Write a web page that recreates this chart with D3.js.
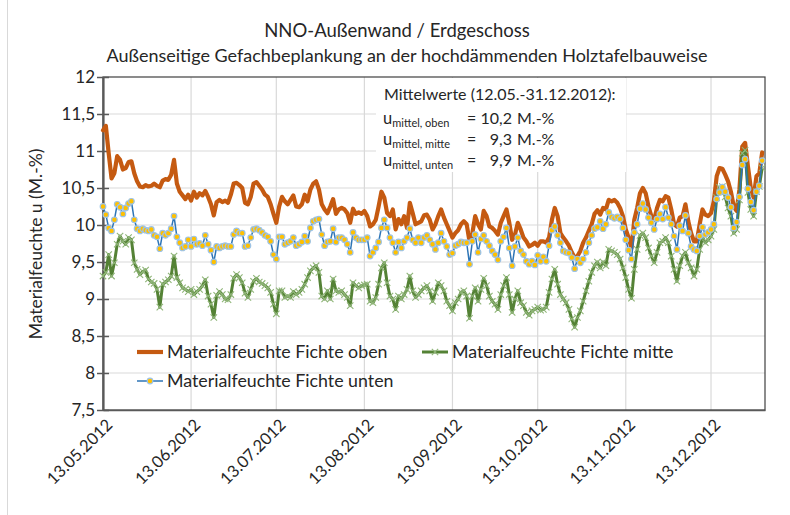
<!DOCTYPE html>
<html>
<head>
<meta charset="utf-8">
<script src="https://cdn.jsdelivr.net/npm/d3@7"></script>
<style>
  html, body { margin: 0; padding: 0; background: #ffffff; }
  svg { display: block; font-family: Lato, "Open Sans", sans-serif; }
</style>
</head>
<body>
<svg id="chart" width="790" height="515"></svg>
<script>
// Daily readings from 13.05.2012 to 31.12.2012
const startDate = new Date(2012, 4, 13);
const endDate = new Date(2013, 0, 1);

const seriesNames = [
  "Materialfeuchte Fichte oben",
  "Materialfeuchte Fichte mitte",
  "Materialfeuchte Fichte unten"
];

const oben = [
  11.28, 11.34, 10.97, 10.63, 10.70, 10.93, 10.88, 10.75, 10.77, 10.85,
  10.86, 10.70, 10.59, 10.52, 10.51, 10.54, 10.52, 10.53, 10.56, 10.53,
  10.51, 10.60, 10.62, 10.61, 10.68, 10.88, 10.56, 10.45, 10.40, 10.35,
  10.41, 10.33, 10.45, 10.37, 10.43, 10.40, 10.46, 10.38, 10.28, 10.13,
  10.31, 10.34, 10.31, 10.33, 10.30, 10.41, 10.56, 10.57, 10.54, 10.50,
  10.30, 10.28, 10.38, 10.56, 10.58, 10.53, 10.48, 10.41, 10.38,
  10.28, 10.15, 10.03, 10.25, 10.38, 10.32, 10.28, 10.34, 10.40, 10.25,
  10.24, 10.28, 10.41, 10.32, 10.48, 10.56, 10.59, 10.48, 10.28, 10.21,
  10.16, 10.25, 10.35, 10.15, 10.21, 10.23, 10.21, 10.16, 10.03, 10.22,
  10.15, 10.17, 10.15, 10.19, 10.12, 9.98, 10.01, 10.07, 10.25, 10.45,
  10.37, 10.16, 10.12, 10.21, 9.94, 10.08, 10.01, 10.12, 9.96, 10.30,
  10.16, 10.01, 10.03, 10.05, 10.13, 10.14,
  10.07, 9.94, 10.01, 10.12, 10.21, 10.10, 10.01, 9.92, 9.83, 9.89,
  9.93, 10.01, 10.05, 10.01, 9.78, 9.89, 10.12, 10.01, 9.94, 10.19,
  10.12, 9.98, 9.96, 9.92, 9.87, 10.03, 10.12, 10.21, 10.03, 9.80,
  9.87, 10.03, 9.94, 9.83, 9.78, 9.71, 9.73, 9.76, 9.72, 9.78,
  9.78, 9.76, 9.83, 10.07, 10.23, 10.12, 9.89, 9.83, 9.78, 9.72,
  9.63, 9.56, 9.58, 9.65, 9.76, 9.83, 9.92, 10.01,
  10.15, 10.20, 10.14, 10.23, 10.21, 10.34, 10.32, 10.34, 10.30, 10.23,
  10.12, 9.94, 9.83, 9.69, 10.07, 10.23, 10.43, 10.50, 10.43, 10.25,
  10.12, 10.07, 10.23, 10.34, 10.32, 10.39, 10.37, 10.21, 10.01, 9.98,
  10.10, 10.12, 10.28, 10.05, 9.89, 9.78, 9.78, 10.01, 10.21, 10.14,
  10.12, 10.16, 10.32, 10.66, 10.77, 10.76, 10.68, 10.59, 10.45, 10.25,
  10.19, 10.48, 11.06, 11.11, 10.79, 10.50, 10.37, 10.66, 10.70, 10.98
];

const mitte = [
  9.31, 9.36, 9.60, 9.31, 9.49, 9.74, 9.85, 9.78, 9.74, 9.83,
  9.80, 9.49, 9.40, 9.33, 9.37, 9.39, 9.27, 9.23, 9.21, 9.13,
  8.89, 9.20, 9.23, 9.26, 9.31, 9.58, 9.29, 9.22, 9.15, 9.13,
  9.10, 9.13, 9.06, 9.10, 9.13, 9.18, 9.26, 9.04, 8.93, 8.75,
  9.05, 9.10, 9.06, 9.00, 8.99, 9.06, 9.28, 9.33, 9.29, 9.22,
  9.08, 9.02, 9.13, 9.24, 9.28, 9.23, 9.21, 9.18, 9.15,
  9.09, 8.93, 8.80, 9.11, 9.11, 9.02, 9.04, 9.02, 9.10, 9.06,
  9.09, 9.13, 9.20, 9.29, 9.38, 9.42, 9.45, 9.36, 9.04, 9.00,
  9.11, 9.00, 9.27, 9.11, 9.09, 9.11, 9.06, 9.02, 8.91, 9.22,
  9.18, 9.15, 9.18, 9.19, 9.20, 8.97, 8.95, 9.02, 9.20, 9.42,
  9.49, 9.22, 9.04, 9.00, 8.86, 9.04, 9.00, 9.06, 9.13, 9.31,
  9.11, 9.02, 9.06, 9.11, 9.15, 9.18,
  9.11, 8.97, 9.09, 9.22, 9.18, 9.11, 8.97, 8.91, 8.84, 8.95,
  9.00, 9.09, 9.11, 9.04, 8.74, 9.04, 9.15, 8.97, 9.13, 9.28,
  9.18, 9.04, 8.97, 8.93, 8.86, 9.06, 9.18, 9.29, 9.06, 8.82,
  9.00, 9.11, 8.95, 8.91, 8.82, 8.78, 8.84, 8.86, 8.89, 8.85,
  8.86, 8.89, 9.09, 9.27, 9.40, 9.20, 9.06, 9.00, 8.95, 8.86,
  8.73, 8.62, 8.75, 8.84, 8.97, 9.11, 9.24, 9.36,
  9.45, 9.50, 9.42, 9.50, 9.45, 9.67, 9.65, 9.63, 9.60, 9.54,
  9.42, 9.29, 9.13, 9.01, 9.40, 9.67, 9.86, 9.89, 9.83, 9.69,
  9.58, 9.49, 9.63, 9.76, 9.78, 9.83, 9.76, 9.58, 9.40, 9.24,
  9.45, 9.58, 9.63, 9.49, 9.42, 9.31, 9.40, 9.67, 9.83, 9.76,
  9.80, 9.85, 9.94, 10.37, 10.51, 10.52, 10.38, 10.23, 10.12, 9.89,
  9.94, 10.34, 10.97, 11.01, 10.44, 10.21, 10.12, 10.45, 10.52, 10.77
];

const unten = [
  10.25, 10.14, 9.96, 9.92, 10.07, 10.28, 10.24, 10.15, 10.23, 10.29,
  10.32, 10.07, 9.95, 9.92, 9.95, 9.93, 9.92, 9.94, 9.86, 9.84,
  9.68, 9.89, 9.86, 9.89, 9.95, 10.12, 9.84, 9.76, 9.69, 9.71,
  9.80, 9.71, 9.81, 9.74, 9.75, 9.72, 9.86, 9.74, 9.66, 9.50,
  9.71, 9.69, 9.71, 9.72, 9.71, 9.71, 9.87, 9.92, 9.89, 9.89,
  9.71, 9.72, 9.83, 9.94, 9.95, 9.93, 9.90, 9.86, 9.84,
  9.78, 9.60, 9.54, 9.84, 9.84, 9.74, 9.76, 9.78, 9.83, 9.72,
  9.74, 9.77, 9.85, 9.78, 9.96, 10.05, 10.07, 10.08, 9.87, 9.72,
  9.77, 9.78, 9.95, 9.77, 9.83, 9.83, 9.80, 9.74, 9.63, 9.90,
  9.83, 9.80, 9.80, 9.80, 9.83, 9.58, 9.63, 9.69, 9.77, 9.96,
  10.07, 9.96, 9.83, 9.76, 9.63, 9.77, 9.69, 9.78, 9.83, 9.95,
  9.80, 9.76, 9.83, 9.76, 9.83, 9.86,
  9.80, 9.74, 9.67, 9.76, 9.89, 9.78, 9.71, 9.60, 9.62, 9.72,
  9.74, 9.77, 9.76, 9.76, 9.47, 9.78, 9.87, 9.63, 9.81, 9.86,
  9.78, 9.72, 9.65, 9.60, 9.53, 9.78, 9.84, 9.96, 9.69, 9.45,
  9.71, 9.83, 9.65, 9.60, 9.51, 9.47, 9.51, 9.46, 9.59, 9.51,
  9.57, 9.51, 9.72, 9.93, 9.98, 9.86, 9.76, 9.65, 9.63, 9.62,
  9.56, 9.41, 9.54, 9.49, 9.54, 9.63, 9.76, 9.86,
  9.95, 9.97, 10.05, 9.95, 10.01, 10.17, 10.11, 10.09, 10.11, 10.08,
  9.96, 9.80, 9.66, 9.54, 9.90, 10.01, 10.22, 10.29, 10.21, 10.10,
  10.03, 9.94, 10.08, 10.15, 10.08, 10.24, 10.10, 10.01, 9.85, 9.67,
  9.99, 9.92, 10.13, 9.89, 9.71, 9.67, 9.65, 9.85, 9.97, 9.87,
  9.90, 9.94, 10.01, 10.35, 10.44, 10.51, 10.45, 10.37, 10.24, 9.96,
  10.04, 10.38, 10.81, 10.89, 10.49, 10.31, 10.20, 10.45, 10.53, 10.87
];

const yTicks = [7.5, 8, 8.5, 9, 9.5, 10, 10.5, 11, 11.5, 12];
const xTickDates = [
  new Date(2012, 4, 13), new Date(2012, 5, 13), new Date(2012, 6, 13),
  new Date(2012, 7, 13), new Date(2012, 8, 13), new Date(2012, 9, 13),
  new Date(2012, 10, 13), new Date(2012, 11, 13)
];

const meanLabels = ["mittel, oben", "mittel, mitte", "mittel, unten"];
const meanValues = ["10,2", "9,3", "9,9"];

const colors = { oben: "#C55A11", mitte: "#548235", unten: "#2E75B6" };

const plot = { left: 103, right: 765, top: 77, bottom: 410 };

const svg = d3.select("#chart");

const x = d3.scaleTime().domain([startDate, endDate]).range([plot.left, plot.right]);
const y = d3.scaleLinear().domain([7.5, 12]).range([plot.bottom, plot.top]);

const days = oben.map((_, i) => d3.timeDay.offset(startDate, i));
// German number format: "11,5" and "12" (no trailing ",0")
const deNum = v => String(v).replace(".", ",");
const fmtDate = d3.timeFormat("%d.%m.%Y");

// Gridlines
const grid = svg.append("g");
grid.selectAll("line.h")
  .data(yTicks.filter(v => v > 7.5 && v < 12))
  .join("line")
  .attr("x1", plot.left).attr("x2", plot.right)
  .attr("y1", d => y(d)).attr("y2", d => y(d))
  .attr("stroke", "#D9D9D9").attr("stroke-width", 1.2);
grid.selectAll("line.v")
  .data(xTickDates.slice(1))
  .join("line")
  .attr("x1", d => x(d)).attr("x2", d => x(d))
  .attr("y1", plot.top).attr("y2", plot.bottom)
  .attr("stroke", "#D9D9D9").attr("stroke-width", 1.2);

// Outer frame line of the chart area
svg.append("line").attr("x1", 7.5).attr("x2", 7.5).attr("y1", 0).attr("y2", 515)
  .attr("stroke", "#D9D9D9").attr("stroke-width", 1);

// Plot border
svg.append("rect")
  .attr("x", plot.left).attr("y", plot.top)
  .attr("width", plot.right - plot.left).attr("height", plot.bottom - plot.top)
  .attr("fill", "none").attr("stroke", "#404040").attr("stroke-width", 1.2);

// Y axis with crossing ticks
const yAxis = d3.axisLeft(y).tickValues(yTicks).tickFormat(deNum).tickSize(0).tickPadding(8);
const gy = svg.append("g").attr("transform", `translate(${plot.left},0)`).call(yAxis);
gy.select(".domain").attr("stroke", "#595959").attr("stroke-width", 2.2);
gy.selectAll(".tick line").attr("x1", -6).attr("x2", 6).attr("stroke", "#595959").attr("stroke-width", 1.5);
gy.selectAll(".tick text").attr("font-size", 17).attr("fill", "#262626")
  .attr("font-family", "Lato, sans-serif");

// X axis
const xAxis = d3.axisBottom(x).tickValues(xTickDates).tickFormat(fmtDate).tickSize(0);
const gx = svg.append("g").attr("transform", `translate(0,${plot.bottom})`).call(xAxis);
gx.select(".domain").attr("stroke", "#595959").attr("stroke-width", 1.5);
gx.selectAll(".tick text")
  .attr("font-size", 16.5).attr("fill", "#262626").attr("font-family", "Lato, sans-serif")
  .attr("text-anchor", "end")
  .attr("dy", null).attr("y", 0)
  .attr("transform", "translate(7,13) rotate(-45)")
  .attr("dominant-baseline", "middle");

// Series lines
const line = d3.line().x((d, i) => x(days[i])).y(d => y(d)).curve(d3.curveLinear);

svg.append("path").datum(oben)
  .attr("d", line).attr("fill", "none")
  .attr("stroke", colors.oben).attr("stroke-width", 4.2)
  .attr("stroke-linejoin", "round").attr("stroke-linecap", "round");

svg.append("path").datum(mitte)
  .attr("d", line).attr("fill", "none")
  .attr("stroke", colors.mitte).attr("stroke-width", 3)
  .attr("stroke-linejoin", "round");

// "x" markers for the middle series
const crossPath = "M-3.2,-3.2L3.2,3.2M-3.2,3.2L3.2,-3.2";
svg.append("g").selectAll("path")
  .data(mitte)
  .join("path")
  .attr("transform", (d, i) => `translate(${x(days[i])},${y(d)})`)
  .attr("d", crossPath)
  .attr("stroke", "#8FB578").attr("stroke-width", 1.1).attr("fill", "none");

svg.append("path").datum(unten)
  .attr("d", line).attr("fill", "none")
  .attr("stroke", colors.unten).attr("stroke-width", 1.5)
  .attr("stroke-linejoin", "round");

svg.append("g").selectAll("circle")
  .data(unten)
  .join("circle")
  .attr("cx", (d, i) => x(days[i])).attr("cy", d => y(d))
  .attr("r", 2.8)
  .attr("fill", "#FFC000").attr("stroke", "#9DC3E6").attr("stroke-width", 1.2);

// Mean values text box
const box = svg.append("g");
box.append("rect").attr("x", 376).attr("y", 78).attr("width", 250).attr("height", 94)
  .attr("fill", "#ffffff");
box.append("text").attr("x", 384).attr("y", 100)
  .attr("font-size", 16).attr("fill", "#262626")
  .text("Mittelwerte (12.05.-31.12.2012):");
meanLabels.forEach((lab, i) => {
  const yy = 124 + i * 21;
  const t = box.append("text").attr("x", 383).attr("y", yy).attr("fill", "#262626");
  t.append("tspan").attr("font-size", 16.5).text("u");
  t.append("tspan").attr("font-size", 11).attr("dy", 3).text(lab);
  box.append("text").attr("x", 467).attr("y", yy).attr("font-size", 16).attr("fill", "#262626").text("=");
  box.append("text").attr("x", 512).attr("y", yy).attr("font-size", 16).attr("fill", "#262626")
    .attr("text-anchor", "end").text(meanValues[i]);
  box.append("text").attr("x", 517).attr("y", yy).attr("font-size", 16).attr("fill", "#262626").text("M.-%");
});

// Legend
const legend = svg.append("g").attr("font-size", 17.8).attr("fill", "#262626");
const legendItems = [
  { name: seriesNames[0], key: "oben", lx: 137, ly: 352 },
  { name: seriesNames[1], key: "mitte", lx: 422, ly: 352 },
  { name: seriesNames[2], key: "unten", lx: 137, ly: 381 }
];
legendItems.forEach(it => {
  const g = legend.append("g");
  const w = it.key === "oben" ? 4.2 : (it.key === "mitte" ? 3 : 1.5);
  g.append("line").attr("x1", it.lx).attr("x2", it.lx + 26).attr("y1", it.ly).attr("y2", it.ly)
    .attr("stroke", colors[it.key]).attr("stroke-width", w);
  if (it.key === "mitte") {
    g.append("path").attr("d", crossPath).attr("transform", `translate(${it.lx + 13},${it.ly})`)
      .attr("stroke", "#8FB578").attr("stroke-width", 1.1).attr("fill", "none");
  }
  if (it.key === "unten") {
    g.append("circle").attr("cx", it.lx + 13).attr("cy", it.ly).attr("r", 2.8)
      .attr("fill", "#FFC000").attr("stroke", "#9DC3E6").attr("stroke-width", 1.2);
  }
  g.append("text").attr("x", it.lx + 30).attr("y", it.ly).attr("dy", "0.35em").text(it.name);
});

// Titles
svg.append("text").attr("x", 397).attr("y", 37).attr("text-anchor", "middle")
  .attr("font-size", 18.5).attr("fill", "#262626").text("NNO-Außenwand / Erdgeschoss");
svg.append("text").attr("x", 407).attr("y", 62).attr("text-anchor", "middle")
  .attr("font-size", 18).attr("fill", "#262626")
  .text("Außenseitige Gefachbeplankung an der hochdämmenden Holztafelbauweise");

// Y axis title
svg.append("text")
  .attr("transform", "translate(42,244) rotate(-90)")
  .attr("text-anchor", "middle").attr("font-size", 17.5).attr("fill", "#262626")
  .text("Materialfeuchte u (M.-%)");
</script>
</body>
</html>
